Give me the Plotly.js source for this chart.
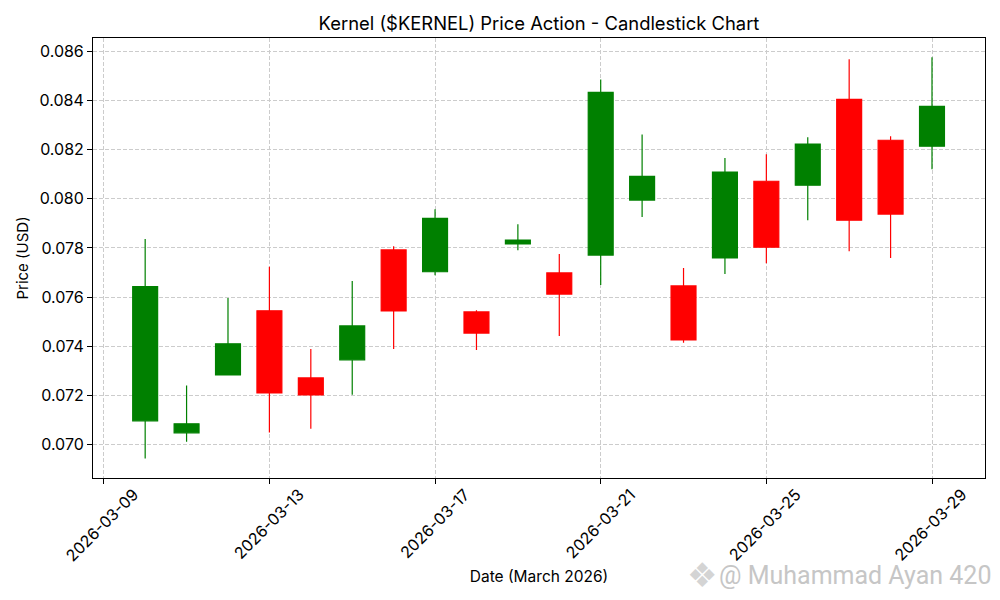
<!DOCTYPE html>
<html>
<head>
<meta charset="utf-8">
<script src="https://cdn.plot.ly/plotly-3.0.1.min.js"></script>
<style>
    html, body { margin: 0; padding: 0; background: white; }
</style>
</head>
<body>
<div id="graph" style="width:1000px;height:600px"></div>
<script>
let dates = ['2026-03-10', '2026-03-11', '2026-03-12', '2026-03-13', '2026-03-14',
    '2026-03-15', '2026-03-16', '2026-03-17', '2026-03-18', '2026-03-19',
    '2026-03-20', '2026-03-21', '2026-03-22', '2026-03-23', '2026-03-24',
    '2026-03-25', '2026-03-26', '2026-03-27', '2026-03-28', '2026-03-29']
let opens = [0.07095, 0.07046, 0.07282, 0.07544, 0.07270, 0.07344, 0.07792, 0.07703, 0.07539, 0.07816,
    0.07698, 0.07771, 0.07995, 0.07645, 0.07759, 0.08072, 0.08056, 0.08406, 0.08239, 0.08215]
let highs = [0.07836, 0.07239, 0.07596, 0.07723, 0.07388, 0.07665, 0.07807, 0.07958, 0.07546, 0.07897,
    0.07775, 0.08487, 0.08263, 0.07718, 0.08167, 0.08182, 0.08251, 0.08569, 0.08255, 0.08578]
let lows = [0.06941, 0.07010, 0.07280, 0.07048, 0.07063, 0.07201, 0.07388, 0.07689, 0.07384, 0.07791,
    0.07441, 0.07649, 0.07926, 0.07413, 0.07694, 0.07738, 0.07913, 0.07787, 0.07759, 0.08121]
let closes = [0.07642, 0.07083, 0.07409, 0.07209, 0.07201, 0.07482, 0.07543, 0.07921, 0.07453, 0.07832,
    0.07612, 0.08434, 0.08092, 0.07425, 0.08109, 0.07803, 0.08223, 0.07913, 0.07938, 0.08377]

let fontName = 'Inter, sans-serif'

main();

function main() {
    let data = [{
        type: 'candlestick',
        x: dates,
        open: opens,
        high: highs,
        low: lows,
        close: closes,
        whiskerwidth: 0,
        increasing: {line: {color: 'green', width: 1.2}, fillcolor: 'green'},
        decreasing: {line: {color: 'red', width: 1.2}, fillcolor: 'red'}
    }];

    var layout = {
        width: 1000,
        height: 600,
        margin: {l: 92.5, r: 14.5, t: 37.5, b: 121.5},
        paper_bgcolor: 'white',
        plot_bgcolor: 'white',
        showlegend: false,
        boxgap: 0.14,
        font: {family: fontName, size: 15, color: 'black'},
        title: {
            text: 'Kernel ($KERNEL) Price Action - Candlestick Chart',
            font: {size: 18.4, color: 'black'},
            x: 0.5,
            xref: 'paper',
            xanchor: 'center',
            y: 0.961,
            yanchor: 'middle'
        },
        xaxis: {
            type: 'date',
            range: ['2026-03-08 17:46', '2026-03-30 06:43'],
            tick0: '2026-03-09',
            dtick: 345600000,
            tickformat: '%Y-%m-%d',
            tickangle: -45,
            ticklabelshift: 30,
            ticklabelstandoff: -5,
            ticks: 'outside',
            ticklen: 5,
            tickcolor: 'black',
            tickfont: {size: 16},
            showline: true,
            mirror: true,
            linecolor: 'black',
            linewidth: 1,
            showgrid: true,
            gridcolor: '#cccccc',
            griddash: '4px,2px',
            gridwidth: 1,
            zeroline: false,
            rangeslider: {visible: false},
            title: {text: 'Date (March 2026)', font: {size: 15.5}, standoff: 6}
        },
        yaxis: {
            range: [0.06862, 0.08656],
            dtick: 0.002,
            tick0: 0.07,
            tickformat: '.3f',
            ticks: 'outside',
            ticklen: 5,
            tickcolor: 'black',
            tickfont: {size: 16},
            showline: true,
            mirror: true,
            linecolor: 'black',
            linewidth: 1,
            showgrid: true,
            gridcolor: '#cccccc',
            griddash: '4px,2px',
            gridwidth: 1,
            zeroline: false,
            title: {text: 'Price (USD)', font: {size: 15}, standoff: 7}
        },
        // watermark bottom right
        annotations: [{
            text: '❖',
            xref: 'paper', yref: 'paper',
            x: 0.6825, y: -0.2205,
            xanchor: 'center', yanchor: 'middle',
            showarrow: false,
            font: {family: 'DejaVu Sans', size: 34, color: '#d4d4d4'}
        }, {
            text: '@ Muhammad Ayan 420',
            xref: 'paper', yref: 'paper',
            x: 1.0095, y: -0.2205,
            xanchor: 'right', yanchor: 'middle',
            showarrow: false,
            font: {family: 'Roboto, sans-serif', size: 25, color: '#c6c6c6'}
        }]
    };
    Plotly.newPlot('graph', data, layout, {displayModeBar: false});
}
</script>
</body>
</html>
